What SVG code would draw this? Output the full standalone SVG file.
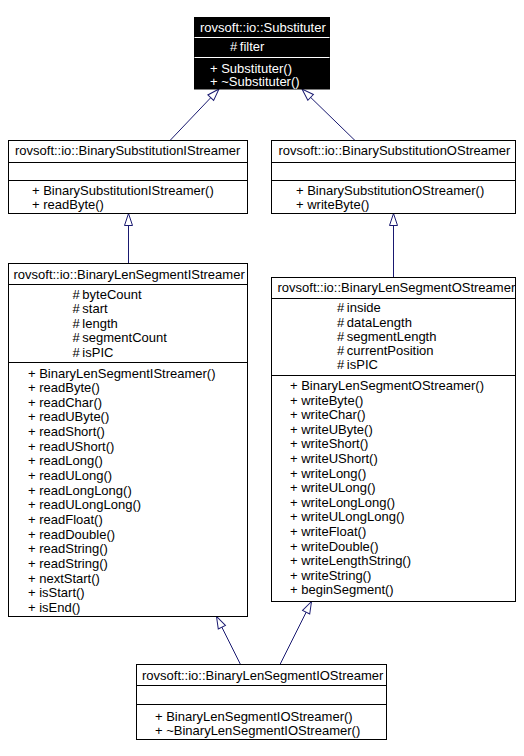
<svg xmlns="http://www.w3.org/2000/svg" width="524" height="756" viewBox="0 0 524 756">
<style>
  text { font-family: "Liberation Sans", Arial, sans-serif; font-size: 13px; fill: #000; }
  .box { fill: #fff; stroke: #000; stroke-width: 1; }
  .sep { stroke: #000; stroke-width: 1; }
  .hbox { fill: #000; stroke: #000; stroke-width: 1; }
  .hsep { stroke: #fff; stroke-width: 1; }
  .htext { fill: #fff; }
  .edge { fill: none; stroke: #191970; stroke-width: 1; marker-end: url(#tri); }
</style>
<defs>
  <marker id="tri" viewBox="-13 -5 14 10" refX="0" refY="0" markerWidth="14" markerHeight="10" markerUnits="userSpaceOnUse" orient="auto">
    <path d="M0,0 L-12,-4 L-12,4 Z" fill="#fff" stroke="#191970" stroke-width="1"/>
  </marker>
</defs>
<rect width="524" height="756" fill="#fff"/>

<g id="connectors">
  <path class="edge" d="M170,140.5 L219,89"/>
  <path class="edge" d="M355,140.5 L302,89"/>
  <path class="edge" d="M128.5,263.5 L128.5,213.5"/>
  <path class="edge" d="M393.5,277.5 L393.5,213.5"/>
  <path class="edge" d="M240.5,664.5 L216.5,616.5"/>
  <path class="edge" d="M280,664.5 L311.5,601.5"/>
</g>

<g id="Substituter">
  <rect class="hbox" x="194.5" y="17.5" width="135" height="71.5"/>
  <line class="hsep" x1="194.5" y1="37.5" x2="329.5" y2="37.5"/>
  <line class="hsep" x1="194.5" y1="57.5" x2="329.5" y2="57.5"/>
  <text class="htext" x="200" y="31.5">rovsoft::io::Substituter</text>
  <text class="htext" x="230" y="51">#&#8201;filter</text>
  <text class="htext"><tspan x="210" y="72.8">+ Substituter()</tspan><tspan x="210" y="86.3">+ ~Substituter()</tspan></text>
</g>

<g id="BinarySubstitutionIStreamer">
  <rect class="box" x="8.5" y="140.5" width="239" height="73"/>
  <line class="sep" x1="8.5" y1="162.5" x2="247.5" y2="162.5"/>
  <line class="sep" x1="8.5" y1="180.5" x2="247.5" y2="180.5"/>
  <text x="15" y="155">rovsoft::io::BinarySubstitutionIStreamer</text>
  <text><tspan x="32" y="195">+ BinarySubstitutionIStreamer()</tspan><tspan x="32" y="208.5">+ readByte()</tspan></text>
</g>

<g id="BinarySubstitutionOStreamer">
  <rect class="box" x="271.5" y="140.5" width="244" height="73"/>
  <line class="sep" x1="271.5" y1="162.5" x2="515.5" y2="162.5"/>
  <line class="sep" x1="271.5" y1="180.5" x2="515.5" y2="180.5"/>
  <text x="278.5" y="155">rovsoft::io::BinarySubstitutionOStreamer</text>
  <text><tspan x="296" y="195">+ BinarySubstitutionOStreamer()</tspan><tspan x="296" y="208.5">+ writeByte()</tspan></text>
</g>

<g id="BinaryLenSegmentIStreamer">
  <rect class="box" x="8.5" y="263.5" width="239" height="353"/>
  <line class="sep" x1="8.5" y1="284.5" x2="247.5" y2="284.5"/>
  <line class="sep" x1="8.5" y1="362.5" x2="247.5" y2="362.5"/>
  <text x="13.5" y="279">rovsoft::io::BinaryLenSegmentIStreamer</text>
  <text>
    <tspan x="72.5" y="298.5">#&#8201;byteCount</tspan>
    <tspan x="72.5" y="313">#&#8201;start</tspan>
    <tspan x="72.5" y="327.5">#&#8201;length</tspan>
    <tspan x="72.5" y="342">#&#8201;segmentCount</tspan>
    <tspan x="72.5" y="356.5">#&#8201;isPIC</tspan>
  </text>
  <text>
    <tspan x="28" y="377.5">+ BinaryLenSegmentIStreamer()</tspan>
    <tspan x="28" y="392.15">+ readByte()</tspan>
    <tspan x="28" y="406.8">+ readChar()</tspan>
    <tspan x="28" y="421.45">+ readUByte()</tspan>
    <tspan x="28" y="436.1">+ readShort()</tspan>
    <tspan x="28" y="450.75">+ readUShort()</tspan>
    <tspan x="28" y="465.4">+ readLong()</tspan>
    <tspan x="28" y="480.05">+ readULong()</tspan>
    <tspan x="28" y="494.7">+ readLongLong()</tspan>
    <tspan x="28" y="509.35">+ readULongLong()</tspan>
    <tspan x="28" y="524">+ readFloat()</tspan>
    <tspan x="28" y="538.65">+ readDouble()</tspan>
    <tspan x="28" y="553.3">+ readString()</tspan>
    <tspan x="28" y="567.95">+ readString()</tspan>
    <tspan x="28" y="582.6">+ nextStart()</tspan>
    <tspan x="28" y="597.25">+ isStart()</tspan>
    <tspan x="28" y="611.9">+ isEnd()</tspan>
  </text>
</g>

<g id="BinaryLenSegmentOStreamer">
  <rect class="box" x="271.5" y="277.5" width="244" height="324"/>
  <line class="sep" x1="271.5" y1="298.5" x2="515.5" y2="298.5"/>
  <line class="sep" x1="271.5" y1="375.5" x2="515.5" y2="375.5"/>
  <text x="277.5" y="292">rovsoft::io::BinaryLenSegmentOStreamer</text>
  <text>
    <tspan x="337" y="312.3">#&#8201;inside</tspan>
    <tspan x="337" y="326.5">#&#8201;dataLength</tspan>
    <tspan x="337" y="340.7">#&#8201;segmentLength</tspan>
    <tspan x="337" y="354.9">#&#8201;currentPosition</tspan>
    <tspan x="337" y="369.1">#&#8201;isPIC</tspan>
  </text>
  <text>
    <tspan x="290" y="390">+ BinaryLenSegmentOStreamer()</tspan>
    <tspan x="290" y="404.6">+ writeByte()</tspan>
    <tspan x="290" y="419.2">+ writeChar()</tspan>
    <tspan x="290" y="433.8">+ writeUByte()</tspan>
    <tspan x="290" y="448.4">+ writeShort()</tspan>
    <tspan x="290" y="463">+ writeUShort()</tspan>
    <tspan x="290" y="477.6">+ writeLong()</tspan>
    <tspan x="290" y="492.2">+ writeULong()</tspan>
    <tspan x="290" y="506.8">+ writeLongLong()</tspan>
    <tspan x="290" y="521.4">+ writeULongLong()</tspan>
    <tspan x="290" y="536">+ writeFloat()</tspan>
    <tspan x="290" y="550.6">+ writeDouble()</tspan>
    <tspan x="290" y="565.2">+ writeLengthString()</tspan>
    <tspan x="290" y="579.8">+ writeString()</tspan>
    <tspan x="290" y="594.4">+ beginSegment()</tspan>
  </text>
</g>

<g id="BinaryLenSegmentIOStreamer">
  <rect class="box" x="136.5" y="664.5" width="250" height="75"/>
  <line class="sep" x1="136.5" y1="685.5" x2="386.5" y2="685.5"/>
  <line class="sep" x1="136.5" y1="704.5" x2="386.5" y2="704.5"/>
  <text x="142" y="680">rovsoft::io::BinaryLenSegmentIOStreamer</text>
  <text><tspan x="155" y="720.5">+ BinaryLenSegmentIOStreamer()</tspan><tspan x="155" y="734.5">+ ~BinaryLenSegmentIOStreamer()</tspan></text>
</g>
</svg>
